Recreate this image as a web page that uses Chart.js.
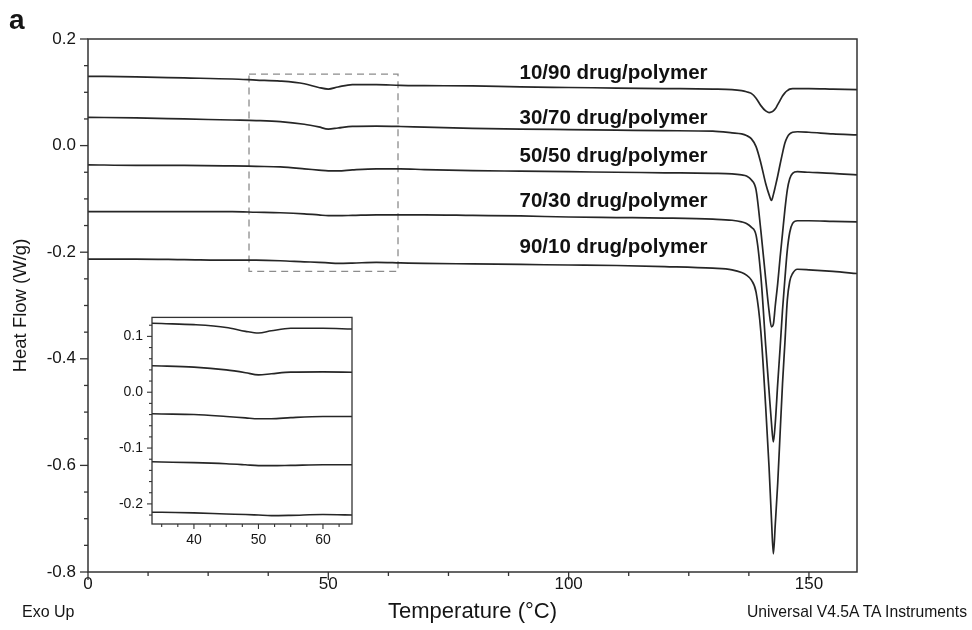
<!DOCTYPE html>
<html><head><meta charset="utf-8">
<script src="https://cdn.jsdelivr.net/npm/chart.js@4.4.1/dist/chart.umd.min.js"></script>
<style>
html,body{margin:0;padding:0;background:#fff;}
#wrap{position:relative;width:972px;height:630px;overflow:hidden;font-family:"Liberation Sans",Arial,sans-serif;color:#151515;}
#main{position:absolute;left:0;top:0;}
#inset{position:absolute;left:100px;top:300px;}
.txt{position:absolute;white-space:nowrap;}
</style></head><body>
<div id="wrap">
<canvas id="main" width="972" height="630" style="width:972px;height:630px"></canvas>
<canvas id="inset" width="270" height="260" style="width:270px;height:260px"></canvas>
<div class="txt" style="left:9px;top:6px;font-size:28px;line-height:28px;font-weight:bold;">a</div>
<div class="txt" style="left:22px;top:604px;font-size:16px;line-height:16px;">Exo Up</div>
<div class="txt" style="right:5px;top:604px;font-size:15.7px;line-height:16px;">Universal V4.5A TA Instruments</div>
</div>
<script>
// ---- data ----
const temps = [0,10,20,30,35,40,45,48,50,52,55,60,65,70,80,90,100,110,120,130,134,136,137,138,139,140,141,141.7,142.2,142.6,143,143.5,144,144.5,145,145.5,146,146.6,147.6,150,155,160];
const hf_10_90 = [0.130,0.129,0.127,0.125,0.123,0.121,0.116,0.109,0.106,0.110,0.1145,0.1145,0.113,0.1125,0.112,0.110,0.109,0.108,0.107,0.106,0.105,0.103,0.101,0.098,0.089,0.075,0.065,0.062,0.063,0.065,0.069,0.077,0.085,0.093,0.099,0.103,0.106,0.107,0.107,0.107,0.106,0.105];
const hf_30_70 = [0.053,0.052,0.050,0.048,0.047,0.045,0.040,0.035,0.031,0.033,0.036,0.0365,0.0358,0.0345,0.0325,0.031,0.030,0.029,0.028,0.027,0.024,0.022,0.019,0.013,-0.002,-0.033,-0.071,-0.092,-0.103,-0.092,-0.077,-0.057,-0.035,-0.014,0.005,0.016,0.022,0.025,0.026,0.025,0.022,0.020];
const hf_50_50 = [-0.036,-0.037,-0.037,-0.038,-0.039,-0.040,-0.0435,-0.046,-0.0475,-0.0475,-0.0455,-0.0435,-0.0435,-0.045,-0.047,-0.048,-0.049,-0.050,-0.051,-0.052,-0.053,-0.055,-0.057,-0.064,-0.083,-0.160,-0.250,-0.310,-0.340,-0.335,-0.300,-0.259,-0.210,-0.165,-0.120,-0.083,-0.062,-0.052,-0.049,-0.050,-0.052,-0.055];
const hf_70_30 = [-0.124,-0.124,-0.124,-0.124,-0.125,-0.126,-0.128,-0.130,-0.1315,-0.1315,-0.131,-0.130,-0.130,-0.130,-0.131,-0.132,-0.134,-0.135,-0.136,-0.138,-0.140,-0.143,-0.146,-0.153,-0.168,-0.245,-0.375,-0.460,-0.520,-0.556,-0.520,-0.447,-0.380,-0.309,-0.250,-0.196,-0.163,-0.146,-0.141,-0.141,-0.142,-0.143];
const hf_90_10 = [-0.213,-0.213,-0.214,-0.215,-0.215,-0.216,-0.218,-0.219,-0.220,-0.221,-0.2205,-0.219,-0.220,-0.221,-0.222,-0.223,-0.224,-0.225,-0.227,-0.230,-0.233,-0.238,-0.243,-0.252,-0.275,-0.350,-0.490,-0.603,-0.700,-0.766,-0.710,-0.634,-0.540,-0.447,-0.370,-0.290,-0.255,-0.240,-0.232,-0.233,-0.236,-0.240];
const seriesNames = ['10/90 drug/polymer','30/70 drug/polymer','50/50 drug/polymer','70/30 drug/polymer','90/10 drug/polymer'];
const seriesValues = [hf_10_90, hf_30_70, hf_50_50, hf_70_30, hf_90_10];
const mainXTicks = [0,50,100,150];
const mainYTicks = [-0.8,-0.6,-0.4,-0.2,0.0,0.2];
const insetXTicks = [40,50,60];
const insetYTicks = [-0.2,-0.1,0.0,0.1];
const zoomT = [33.5, 64.5];        // zoom window, temperature
const zoomHF = [-0.236, 0.134];    // zoom window, heat flow
const labelT = 90;                 // temperature where series names sit

// ---- helpers ----
const FONT = '"Liberation Sans", Arial, sans-serif';
const INK = '#262626';
function withMinor(majors, n, min, max){
  const m=[...majors].sort((a,b)=>a-b); const step=(m[1]-m[0])/n; const out=[];
  for(let v=m[0]-step; v>=min-1e-9; v-=step) out.push({value:+v.toFixed(6),major:false});
  m.forEach((v,i)=>{ out.push({value:v,major:true}); if(i<m.length-1){ for(let k=1;k<n;k++) out.push({value:+(v+step*k).toFixed(6),major:false}); } });
  for(let v=m[m.length-1]+step; v<=max+1e-9; v+=step) out.push({value:+v.toFixed(6),major:false});
  return out.sort((a,b)=>a.value-b.value);
}
function isMajor(list, v){ return list.some(t=>Math.abs(t-v)<1e-6); }
function seriesData(vals){ return temps.map((t,i)=>({x:t,y:vals[i]})); }

const tickMarks = {
  id:'tickMarks',
  afterDraw(chart, args, o){
    const ctx=chart.ctx, a=chart.chartArea, xs=chart.scales.x, ys=chart.scales.y;
    ctx.save(); ctx.strokeStyle=o.color; ctx.lineWidth=o.width; ctx.lineCap='butt';
    xs.ticks.forEach(t=>{ const p=xs.getPixelForValue(t.value); const L=t.major?o.major:o.minor;
      ctx.beginPath(); ctx.moveTo(p,a.bottom); ctx.lineTo(p,a.bottom+L); ctx.stroke(); });
    ys.ticks.forEach(t=>{ const p=ys.getPixelForValue(t.value); const L=t.major?o.major:o.minor;
      ctx.beginPath(); ctx.moveTo(a.left,p); ctx.lineTo(a.left-L,p); ctx.stroke(); });
    ctx.lineWidth=o.frame;
    ctx.strokeRect(a.left,a.top,a.right-a.left,a.bottom-a.top);
    ctx.restore();
  }
};
const seriesLabels = {
  id:'seriesLabels',
  afterDatasetsDraw(chart, args, o){
    if(!o.show) return;
    const ctx=chart.ctx, xs=chart.scales.x, ys=chart.scales.y; const idx=temps.indexOf(labelT);
    ctx.save(); ctx.fillStyle='#111'; ctx.font='bold 20.5px '+FONT; ctx.textAlign='left'; ctx.textBaseline='middle';
    seriesNames.forEach((n,i)=>{ ctx.fillText(n, xs.getPixelForValue(labelT)-1, ys.getPixelForValue(seriesValues[i][idx])+o.lift[i]); });
    ctx.restore();
  }
};

function lineSets(width){
  return seriesValues.map((v,i)=>({label:seriesNames[i], data:seriesData(v), borderColor:INK, borderWidth:width,
    pointRadius:0, fill:false, cubicInterpolationMode:'monotone'}));
}

const mainXT = withMinor(mainXTicks,4,0,160);
const mainYT = withMinor(mainYTicks,4,-0.8,0.2);
const rect = [{x:zoomT[0],y:zoomHF[1]},{x:zoomT[1],y:zoomHF[1]},{x:zoomT[1],y:zoomHF[0]},{x:zoomT[0],y:zoomHF[0]},{x:zoomT[0],y:zoomHF[1]}];

new Chart(document.getElementById('main'), {
  type:'line',
  data:{datasets:[...lineSets(1.7), {label:'zoom', data:rect, borderColor:'#8c8c8c', borderWidth:1.3, borderDash:[7,5], pointRadius:0, tension:0, fill:false}]},
  options:{
    responsive:false, animation:false, devicePixelRatio:1, parsing:true,
    layout:{padding:{left:0,top:39,right:115,bottom:0}},
    plugins:{legend:{display:false}, tooltip:{enabled:false}, tickMarks:{color:'#333',width:1.3,major:8,minor:4,frame:1.5},
      seriesLabels:{show:true, lift:[-14,-11,-15,-15,-17]}},
    scales:{
      x:{type:'linear', min:0, max:160,
        afterBuildTicks:s=>{ s.ticks = mainXT.map(t=>({value:t.value,major:t.major})); },
        afterFit:s=>{ s.height=58; },
        grid:{display:false, drawTicks:false}, border:{display:false},
        ticks:{autoSkip:false, maxRotation:0, padding:2, color:'#151515', font:{size:17,family:FONT},
          callback:(v)=> isMajor(mainXTicks,v) ? String(Math.round(v)) : ''},
        title:{display:true, text:'Temperature (°C)', color:'#151515', font:{size:22,family:FONT}, padding:{top:0,bottom:5}}
      },
      y:{type:'linear', min:-0.8, max:0.2,
        afterBuildTicks:s=>{ s.ticks = mainYT.map(t=>({value:t.value,major:t.major})); },
        afterFit:s=>{ s.width=88; },
        grid:{display:false, drawTicks:false}, border:{display:false},
        ticks:{autoSkip:false, padding:12, color:'#151515', font:{size:17,family:FONT},
          callback:(v)=> isMajor(mainYTicks,v) ? (Math.abs(v)<1e-9?'0.0':v.toFixed(1)) : ''},
        title:{display:true, text:'Heat Flow (W/g)', color:'#151515', font:{size:18.5,family:FONT}, padding:{top:10,bottom:0}}
      }
    }
  },
  plugins:[tickMarks, seriesLabels]
});

const inXT = withMinor(insetXTicks,4,zoomT[0],zoomT[1]);
const inYT = withMinor(insetYTicks,5,zoomHF[0],zoomHF[1]);
new Chart(document.getElementById('inset'), {
  type:'line',
  data:{datasets:lineSets(1.6)},
  options:{
    responsive:false, animation:false, devicePixelRatio:1,
    layout:{padding:{left:0,top:12,right:18,bottom:0}},
    plugins:{legend:{display:false}, tooltip:{enabled:false}, tickMarks:{color:'#333',width:1.1,major:5,minor:3,frame:1.3}, seriesLabels:{show:false}},
    scales:{
      x:{type:'linear', min:zoomT[0], max:zoomT[1],
        afterBuildTicks:s=>{ s.ticks = inXT.map(t=>({value:t.value,major:t.major})); },
        afterFit:s=>{ s.height=36; },
        grid:{display:false, drawTicks:false}, border:{display:false},
        ticks:{autoSkip:false, maxRotation:0, padding:8, color:'#151515', font:{size:14,family:FONT},
          callback:(v)=> isMajor(insetXTicks,v) ? String(Math.round(v)) : ''}
      },
      y:{type:'linear', min:zoomHF[0], max:zoomHF[1],
        afterBuildTicks:s=>{ s.ticks = inYT.map(t=>({value:t.value,major:t.major})); },
        afterFit:s=>{ s.width=52; },
        grid:{display:false, drawTicks:false}, border:{display:false},
        ticks:{autoSkip:false, padding:9, color:'#151515', font:{size:14,family:FONT},
          callback:(v)=> isMajor(insetYTicks,v) ? (Math.abs(v)<1e-9?'0.0':v.toFixed(1)) : ''}
      }
    }
  },
  plugins:[tickMarks]
});
</script>
</body></html>
